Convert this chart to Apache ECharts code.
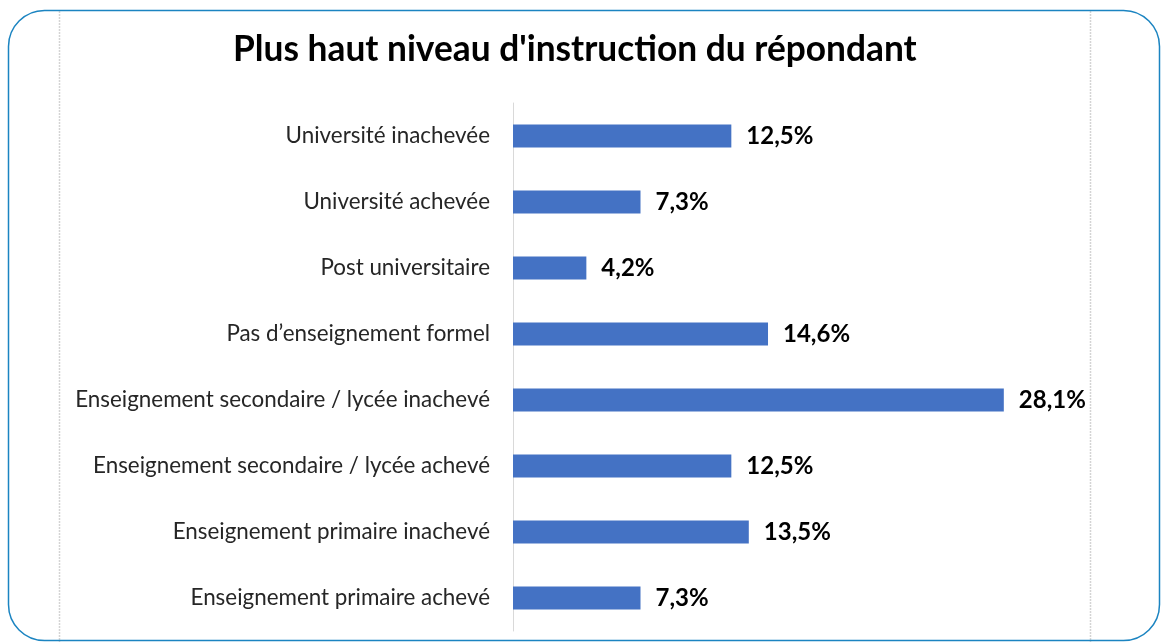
<!DOCTYPE html>
<html>
<head>
<meta charset="utf-8">
<script src="https://cdn.jsdelivr.net/npm/echarts@6/dist/echarts.min.js"></script>
<style>
  html, body { margin: 0; padding: 0; background: #ffffff; }
  #chart { width: 1161px; height: 642px; }
</style>
</head>
<body>
<div id="chart"></div>
<script>
// Niveaux d'instruction, listés de haut en bas
const categories = [
  "Université inachevée",
  "Université achevée",
  "Post universitaire",
  "Pas d’enseignement formel",
  "Enseignement secondaire / lycée inachevé",
  "Enseignement secondaire / lycée achevé",
  "Enseignement primaire inachevé",
  "Enseignement primaire achevé"
];
// Part des répondants (%)
const values = [12.5, 7.3, 4.2, 14.6, 28.1, 12.5, 13.5, 7.3];

const FONT = "Lato, 'Open Sans', sans-serif";
const chart = echarts.init(document.getElementById('chart'), null, { renderer: 'canvas' });

chart.setOption({
  backgroundColor: '#ffffff',
  animation: false,
  title: {
    text: "Plus haut niveau d'instruction du répondant",
    left: 228,
    top: 27,
    textStyle: { fontFamily: FONT, fontWeight: 'bold', fontSize: 35.3, color: '#000000' }
  },
  grid: { left: 513, right: 124, top: 103, bottom: 11, containLabel: false },
  xAxis: {
    type: 'value',
    min: 0,
    max: 30,
    show: false
  },
  yAxis: {
    type: 'category',
    data: categories,
    inverse: true,
    axisLine: { show: true, lineStyle: { color: '#d9d9d9', width: 1 } },
    axisTick: { show: false },
    axisLabel: { fontFamily: FONT, fontSize: 22.4, color: '#262626', margin: 23 }
  },
  series: [{
    type: 'bar',
    data: values,
    barWidth: 23,
    itemStyle: { color: '#4472c4' },
    label: {
      show: true,
      position: 'right',
      distance: 15,
      formatter: p => p.value.toFixed(1).replace('.', ',') + '%',
      fontFamily: FONT,
      fontWeight: 'bold',
      fontSize: 24,
      color: '#000000'
    }
  }],
  graphic: [
    // rules in the page background
    { type: 'line', silent: true, z: -1, shape: { x1: 59.5, y1: 11, x2: 59.5, y2: 642 },
      style: { stroke: '#d4d4d4', lineWidth: 1.5, lineDash: [2, 1] } },
    { type: 'line', silent: true, z: -1, shape: { x1: 1090.5, y1: 11, x2: 1090.5, y2: 642 },
      style: { stroke: '#d4d4d4', lineWidth: 1.5, lineDash: [2, 1] } },
    // rounded frame
    { type: 'rect', silent: true, z: 10,
      shape: { x: 8.5, y: 10.5, width: 1151, height: 630, r: 36 },
      style: { fill: 'none', stroke: '#1b84c1', lineWidth: 1.5 } }
  ]
});
</script>
</body>
</html>
